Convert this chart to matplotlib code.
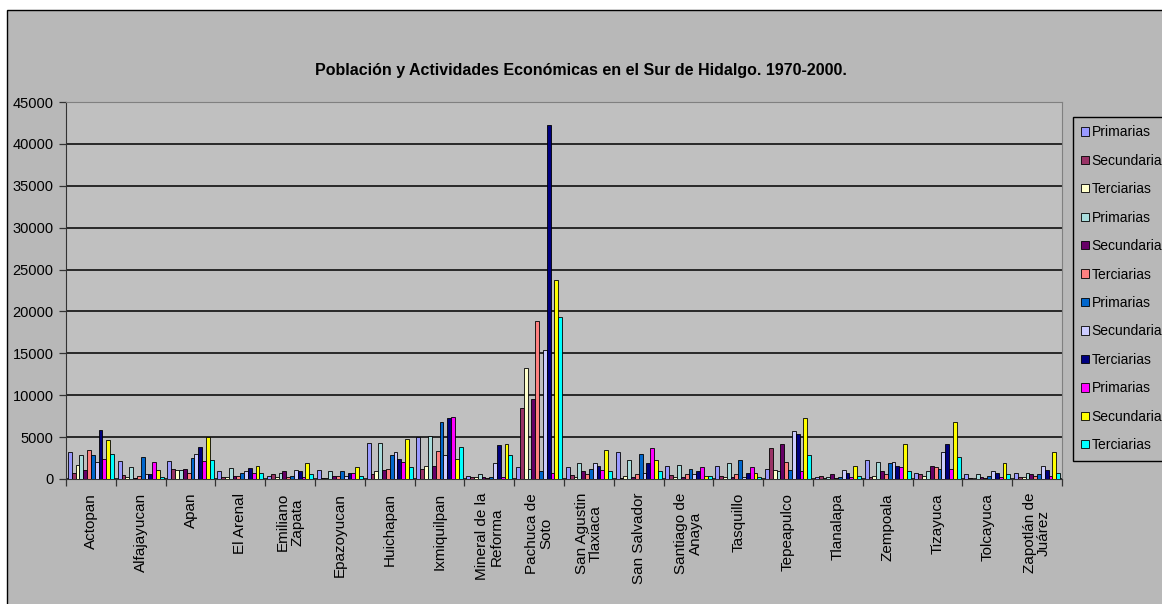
import matplotlib.pyplot as plt
import matplotlib.patches as mpatches
import numpy as np

plt.rcParams['font.family'] = ['Liberation Sans', 'DejaVu Sans']

municipios = ['Actopan', 'Alfajayucan', 'Apan', 'El Arenal', 'Emiliano\nZapata',
              'Epazoyucan', 'Huichapan', 'Ixmiquilpan', 'Mineral de la\nReforma',
              'Pachuca de\nSoto', 'San Agustin\nTlaxiaca', 'San Salvador',
              'Santiago de\nAnaya', 'Tasquillo', 'Tepeapulco', 'Tlanalapa',
              'Zempoala', 'Tizayuca', 'Tolcayuca', 'Zapotlán de\nJuárez']

# poblacion ocupada por sector, cuatro levantamientos
p70 = [3200, 2200, 2200, 920, 400, 1120, 4320, 5000, 400, 1470, 1400, 3200, 1560, 1560, 1240, 280, 2240, 760, 600, 760]
s70 = [720, 440, 1240, 280, 600, 120, 600, 1240, 240, 8450, 440, 120, 440, 400, 3680, 400, 240, 600, 120, 240]
t70 = [1720, 240, 1080, 280, 280, 120, 920, 1560, 200, 13190, 280, 400, 240, 240, 1080, 120, 400, 400, 40, 280]
p80 = [2880, 1400, 1080, 1280, 760, 920, 4320, 5160, 600, 1150, 1880, 2240, 1720, 1880, 920, 280, 2080, 920, 600, 760]
s80 = [1080, 120, 1240, 400, 920, 400, 1120, 1560, 240, 9600, 920, 240, 240, 280, 4160, 600, 920, 1560, 280, 600]
t80 = [3520, 400, 720, 320, 280, 400, 1240, 3400, 120, 18880, 600, 600, 600, 600, 2080, 120, 600, 1400, 120, 400]
p90 = [2880, 2680, 2560, 760, 400, 920, 2880, 6800, 240, 1000, 1240, 3000, 1240, 2240, 1080, 280, 1880, 1240, 400, 600]
s90 = [2040, 600, 3000, 920, 1120, 320, 3200, 2880, 1880, 15340, 1880, 760, 600, 240, 5680, 1080, 2040, 3200, 920, 1560]
t90 = [5800, 600, 3840, 1280, 920, 720, 2400, 7320, 4000, 42300, 1560, 1880, 920, 760, 5320, 760, 1560, 4160, 760, 1080]
p00 = [2400, 2080, 2160, 720, 240, 720, 2080, 7440, 240, 760, 1080, 3680, 1400, 1400, 920, 280, 1400, 1240, 240, 400]
s00 = [4680, 1080, 5000, 1560, 1880, 1400, 4800, 2400, 4160, 23740, 3520, 2240, 400, 760, 7280, 1560, 4160, 6800, 1880, 3200]
t00 = [3040, 280, 2240, 760, 600, 400, 1400, 3840, 2880, 19320, 920, 920, 400, 240, 2880, 400, 920, 2680, 600, 760]

series = [p70, s70, t70, p80, s80, t80, p90, s90, t90, p00, s00, t00]
labels = ['Primarias', 'Secundarias', 'Terciarias'] * 4
colors = ['#9999FF', '#993366', '#FFFFCC', '#A8DCDC', '#660066', '#FF8080',
          '#0066CC', '#CCCCFF', '#000080', '#FF00FF', '#FFFF00', '#00FFFF']

W, H = 1162, 604
fig = plt.figure(figsize=(W / 100, H / 100), dpi=100, facecolor='white')

# chart area frame (runs past the right and bottom edges)
fig.patches.append(mpatches.Rectangle((7 / W, -0.1), 1.2, 1.1 - 10 / H,
                                      transform=fig.transFigure, facecolor='#B8B8B8',
                                      edgecolor='black', linewidth=1.0, zorder=-10))

ax = fig.add_axes([66 / W, 1 - 479 / H, (1062 - 66) / W, (479 - 102) / H])
ax.set_facecolor('#C0C0C0')

n = len(series)
x = np.arange(len(municipios))
group = 0.925
bw = group / n
for i, (vals, lab, col) in enumerate(zip(series, labels, colors)):
    ax.bar(x - group / 2 + bw * (i + 0.5), vals, width=bw, color=col, label=lab,
           edgecolor='black', linewidth=0.6, zorder=3)

ax.set_xlim(-0.5, len(municipios) - 0.5)
ax.set_ylim(0, 45000)
ax.set_yticks(np.arange(0, 45001, 5000))
ax.yaxis.grid(True, color='black', linewidth=1.1, zorder=1)
ax.tick_params(axis='y', length=5, width=0.9, color='#333333', labelsize=10.5, pad=4)

ax.set_xticks(x)
ax.set_xticklabels(municipios, rotation=90, ha='center', va='top', fontsize=11,
                   multialignment='center', linespacing=1.0)
ax.tick_params(axis='x', which='major', length=0, pad=10)
ax.set_xticks(np.arange(-0.5, len(municipios), 1), minor=True)
ax.tick_params(axis='x', which='minor', length=5, width=0.9, color='#333333')

for side in ['left', 'bottom']:
    ax.spines[side].set_color('#333333')
for side in ['top', 'right']:
    ax.spines[side].set_color('#808080')

fig.text(581 / W, 1 - 70 / H,
         'Población y Actividades Económicas en el Sur de Hidalgo. 1970-2000.',
         ha='center', va='center', fontsize=11.5, fontweight='bold')

leg = ax.legend(loc='upper left', bbox_to_anchor=(1073 / W, 1 - 117 / H),
                bbox_transform=fig.transFigure, fontsize=10, frameon=True,
                fancybox=False, edgecolor='black', facecolor='#B8B8B8', framealpha=1,
                handlelength=0.55, handleheight=0.55, handletextpad=0.2,
                labelspacing=1.04, borderpad=0.6, borderaxespad=0)
leg.get_frame().set_linewidth(1.0)

fig.savefig('out.png', dpi=100)
